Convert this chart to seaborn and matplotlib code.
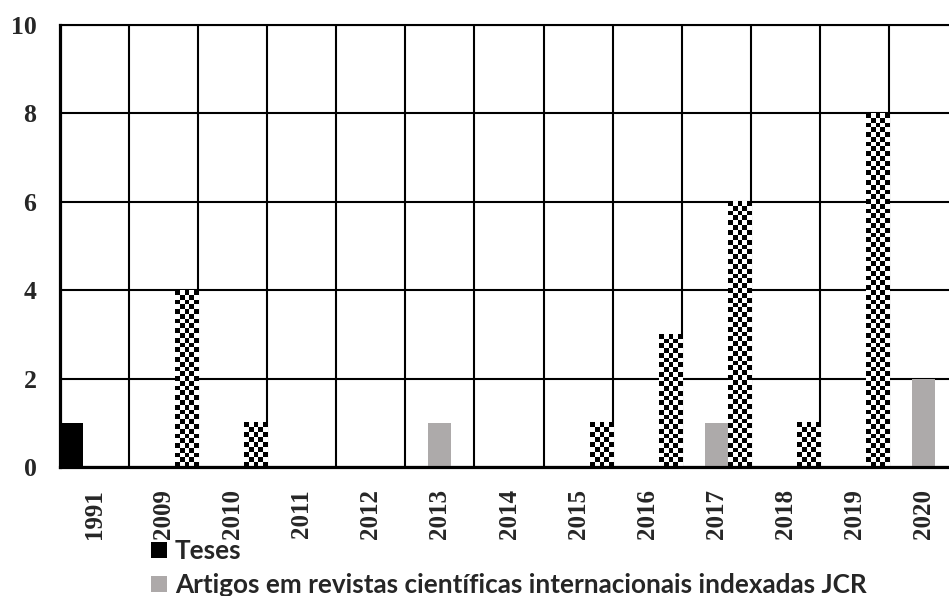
import numpy as np
import pandas as pd
import matplotlib
matplotlib.use("Agg")
import matplotlib.pyplot as plt
import matplotlib.patches as mpatches
import seaborn as sns

years = ["1991", "2009", "2010", "2011", "2012", "2013", "2014",
         "2015", "2016", "2017", "2018", "2019", "2020"]
teses = [1, 0, 0, 0, 0, 0, 0, 0, 0, 0, 0, 0, 0]
artigos_jcr = [0, 0, 0, 0, 0, 1, 0, 0, 0, 1, 0, 0, 2]
outros = [0, 4, 1, 0, 0, 0, 0, 1, 3, 6, 1, 8, 0]
series_names = ["Teses",
                "Artigos em revistas científicas internacionais indexadas JCR",
                "Outros"]
y_ticks = [0, 2, 4, 6, 8, 10]

df = pd.DataFrame({
    "ano": years * 3,
    "valor": teses + artigos_jcr + outros,
    "serie": [series_names[0]] * len(years) + [series_names[1]] * len(years)
             + [series_names[2]] * len(years),
})

sns.set_style("white")
W, H = 949, 596
fig = plt.figure(figsize=(W / 100, H / 100), dpi=100)
ax = fig.add_axes([60 / W, 129 / H, 898 / W, 442 / H])

gray = "#ADA9A9"
sns.barplot(data=df, x="ano", y="valor", hue="serie", hue_order=series_names,
            palette=["black", gray, "white"], width=1.0, gap=0, dodge=True,
            linewidth=0, ax=ax, legend=False, zorder=2)

# checkerboard fill for third series
for bar in ax.containers[2]:
    h = bar.get_height()
    if h > 0:
        x0, w = bar.get_x(), bar.get_width()
        nx = 5
        ny = max(1, int(round(h * 44.2 / 4.8)))
        img = np.add.outer(np.arange(ny), np.arange(nx)) % 2
        ax.imshow(img, cmap="gray", extent=(x0, x0 + w, 0, h), aspect="auto",
                  interpolation="nearest", zorder=3, vmin=0, vmax=1)

ax.set_xlim(-0.5, len(years) - 0.5)
ax.set_ylim(0, 10)
ax.set_yticks(y_ticks)
ax.set_xticks(range(len(years)))
ax.set_xticks(np.arange(-0.5, len(years), 1.0), minor=True)
ax.set_xlabel("")
ax.set_ylabel("")

ax.grid(True, which="major", axis="y", color="black", linewidth=1.5, zorder=0)
ax.grid(True, which="minor", axis="x", color="black", linewidth=1.5, zorder=0)
ax.grid(False, which="major", axis="x")
ax.set_axisbelow(True)

ax.spines["right"].set_visible(False)
ax.spines["top"].set_linewidth(1.5)
ax.spines["left"].set_linewidth(2.3)
ax.spines["bottom"].set_linewidth(2.3)
for s in ["top", "left", "bottom"]:
    ax.spines[s].set_color("black")
    ax.spines[s].set_zorder(5)

ax.tick_params(axis="y", which="major", length=0, pad=17)
ax.tick_params(axis="x", which="major", length=0, pad=16)
ax.tick_params(axis="x", which="minor", direction="in", length=4, width=3,
               color="black")

for lab in ax.get_yticklabels():
    lab.set_fontfamily("Liberation Serif")
    lab.set_fontweight("bold")
    lab.set_fontsize(18.5)
for lab in ax.get_xticklabels():
    lab.set_fontfamily("Liberation Serif")
    lab.set_fontweight("bold")
    lab.set_fontsize(18)
    lab.set_rotation(90)

handles = [mpatches.Patch(facecolor="black", edgecolor="none", label=series_names[0]),
           mpatches.Patch(facecolor=gray, edgecolor="none", label=series_names[1])]
fig.legend(handles=handles, loc="upper left",
           bbox_to_anchor=(151 / W, 1 - 539 / H),
           frameon=False, handlelength=0.62, handleheight=0.6,
           handletextpad=0.3, labelspacing=0.39, borderaxespad=0,
           borderpad=0,
           prop={"family": "Lato", "weight": "bold", "size": 18.8})

fig.savefig("out.png", dpi=100)
